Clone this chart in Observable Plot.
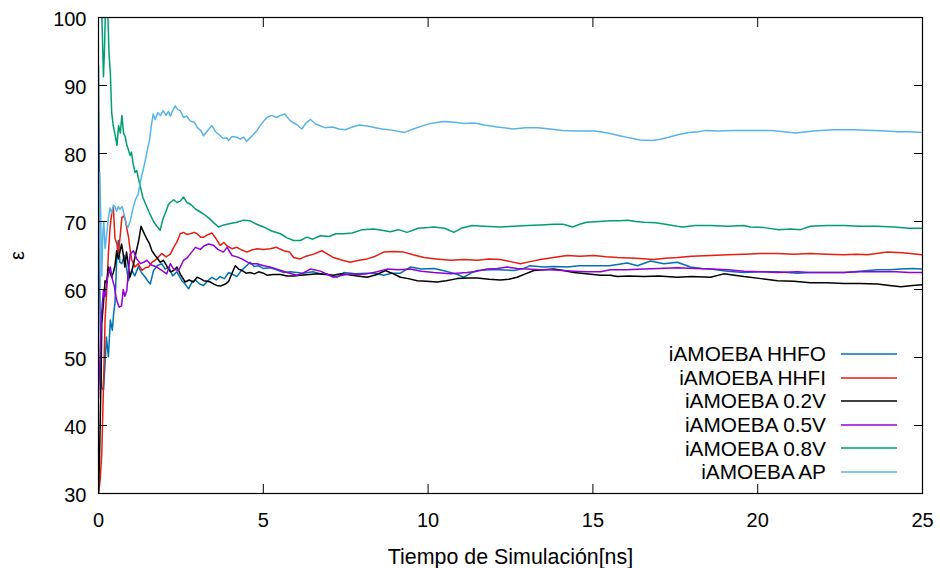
<!DOCTYPE html>
<html>
<head>
<meta charset="utf-8">
<script src="https://cdn.jsdelivr.net/npm/d3@7"></script>
<script src="https://cdn.jsdelivr.net/npm/@observablehq/plot@0.6"></script>
<style>
  html, body { margin: 0; padding: 0; background: #fff; }
  #chart { position: relative; width: 940px; height: 568px; font-family: "Liberation Sans", Arial, sans-serif; }
  #legend { position: absolute; right: 43px; top: 342.2px; }
  #legend .row { display: flex; align-items: center; justify-content: flex-end; height: 23.6px; font-size: 20.8px; line-height: 23.6px; color: #000; white-space: nowrap; }
  #legend svg { display: block; margin-left: 15px; }
</style>
</head>
<body>
<div id="chart"></div>
<script>
// Dielectric constant (ε) running estimate vs. simulation time for each water model
const serieNames = ["iAMOEBA HHFO", "iAMOEBA HHFI", "iAMOEBA 0.2V", "iAMOEBA 0.5V", "iAMOEBA 0.8V", "iAMOEBA AP"];
const serieColors = ["#0072b2", "#e51e10", "#000000", "#9400d3", "#009e73", "#56b4e9"];
const xTicks = [0, 5, 10, 15, 20, 25];
const yTicks = [30, 40, 50, 60, 70, 80, 90, 100];
const xTitle = "Tiempo de Simulación[ns]";
const yTitle = "ε";

// [time (ns), ε]
const hhfo = [[0,93],[0.02,78],[0.04,60],[0.07,48],[0.1,45.5],[0.15,45.2],[0.2,49],[0.24,53],[0.3,50.1],[0.36,55.5],[0.42,54],[0.46,56.5],[0.5,58],[0.56,65.2],[0.6,67.2],[0.65,64],[0.71,63.8],[0.78,65],[0.84,63.5],[0.91,61.3],[0.96,62.2],[1.01,62.8],[1.1,62],[1.21,63.4],[1.3,62.5],[1.42,61.8],[1.5,61.2],[1.57,60.8],[1.67,62.8],[1.78,63.5],[1.92,63.8],[2.02,63],[2.13,63.3],[2.25,62],[2.38,62.6],[2.53,61.3],[2.63,60.8],[2.73,60.1],[2.85,61.2],[2.94,61.4],[3.07,60.8],[3.19,60.6],[3.3,61.2],[3.44,61.8],[3.57,61.4],[3.69,61.9],[3.82,61.6],[3.95,62.5],[4.08,62.2],[4.2,61.9],[4.32,62.7],[4.45,63.3],[4.6,64],[4.72,63.4],[4.85,63.5],[5.0,63.1],[5.21,63.2],[5.4,62.9],[5.62,62.5],[5.82,62.6],[6.02,62.5],[6.2,62.4],[6.5,62.6],[6.75,62.3],[6.93,62.3],[7.1,62.0],[7.24,61.8],[7.44,62.5],[7.8,62.3],[8.15,62.4],[8.4,62.4],[8.65,62.1],[8.9,62.4],[9.16,62.4],[9.46,63.3],[9.8,63.0],[10.17,63.1],[10.45,62.8],[10.68,62.5],[10.9,62.2],[11.08,61.8],[11.3,62.4],[11.49,62.8],[11.85,62.9],[12.19,62.9],[12.6,62.8],[12.9,63.1],[13.1,63.5],[13.5,63.3],[13.81,63.4],[14.22,63.3],[14.6,63.5],[15.03,63.5],[15.5,63.5],[16.04,63.9],[16.35,63.5],[16.75,64.2],[17.15,63.8],[17.56,64.0],[17.96,63.3],[18.3,63.1],[18.57,63.0],[19.08,62.7],[19.58,62.5],[20.1,62.6],[20.6,62.6],[21.2,62.4],[21.6,62.5],[22.1,62.5],[22.62,62.5],[23.1,62.7],[23.63,62.9],[24.0,62.9],[24.34,63.0],[24.7,63.1],[25.0,63.0]];

const hhfi = [[0,30],[0.05,32],[0.1,35.9],[0.15,45.6],[0.2,55.5],[0.25,60],[0.3,65.3],[0.35,69],[0.4,71.2],[0.45,72.1],[0.5,67.5],[0.56,66.7],[0.6,65.3],[0.66,68],[0.71,70.6],[0.76,70.8],[0.81,70.4],[0.86,69],[0.91,67.7],[0.96,65.8],[1.01,64.3],[1.11,63.3],[1.2,63.8],[1.32,62.8],[1.42,63.2],[1.52,63.3],[1.62,64],[1.72,64.3],[1.82,64.8],[1.92,65.3],[2.05,64.8],[2.18,65.2],[2.28,66.2],[2.38,67],[2.48,68.2],[2.58,68.4],[2.68,68.1],[2.78,68.2],[2.9,68.4],[2.99,68.2],[3.1,67.7],[3.19,67.7],[3.29,68.0],[3.44,68.3],[3.55,67.6],[3.69,66.5],[3.8,66.9],[3.9,66.4],[4.05,66.0],[4.2,66.2],[4.35,65.8],[4.5,65.5],[4.65,65.8],[4.81,66.0],[5.0,65.9],[5.21,66.0],[5.4,66.2],[5.62,65.7],[5.8,65.5],[5.92,64.7],[6.12,64.5],[6.3,64.9],[6.53,65.2],[6.78,65.7],[6.95,65.2],[7.13,64.7],[7.4,64.3],[7.64,64.0],[7.9,64.3],[8.15,64.5],[8.4,64.9],[8.65,65.5],[8.95,65.6],[9.26,65.5],[9.55,65.1],[9.87,64.7],[10.25,64.5],[10.68,64.3],[11.1,64.4],[11.49,64.3],[11.85,64.5],[12.19,64.4],[12.5,64.1],[12.8,63.8],[13.1,64.1],[13.41,64.4],[13.8,64.7],[14.22,65.0],[14.6,64.9],[15.03,65.0],[15.4,64.8],[15.74,64.7],[16.3,64.6],[16.85,64.4],[17.2,64.6],[17.56,64.7],[18.0,64.9],[18.57,65.0],[19.1,65.1],[19.58,65.2],[20.1,65.3],[20.6,65.3],[21.1,65.2],[21.6,65.3],[22.1,65.2],[22.62,65.1],[23.0,65.2],[23.33,65.1],[23.6,65.3],[23.93,65.5],[24.4,65.4],[25,65.1]];

const v02 = [[0,30],[0.03,35],[0.05,40],[0.08,48],[0.1,55],[0.15,58],[0.2,61.3],[0.25,61],[0.3,63.3],[0.35,62.5],[0.4,61.8],[0.45,62.5],[0.5,63.5],[0.55,65.7],[0.6,64.5],[0.65,65.5],[0.7,66.7],[0.75,65.2],[0.8,63.3],[0.85,65.5],[0.9,63.8],[0.95,61.8],[1.0,62.5],[1.05,63.5],[1.15,65.7],[1.22,67.2],[1.29,69.3],[1.37,68.4],[1.45,67.6],[1.55,66.7],[1.62,65.7],[1.72,65.0],[1.77,64.7],[1.87,64.0],[1.97,64.3],[2.08,63.4],[2.18,62.6],[2.28,62.8],[2.38,63.3],[2.5,62.1],[2.63,61.1],[2.75,61.4],[2.88,61.1],[2.99,61.8],[3.09,61.6],[3.19,61.3],[3.3,61.2],[3.39,61.1],[3.5,60.8],[3.59,60.6],[3.7,60.5],[3.85,60.8],[3.95,61.2],[4.05,62.4],[4.15,63.5],[4.25,63.0],[4.35,62.8],[4.48,62.4],[4.6,62.5],[4.73,62.3],[4.86,62.6],[5.0,62.4],[5.11,62.1],[5.3,62.2],[5.52,62.2],[5.72,62.0],[5.92,62.0],[6.12,62.1],[6.4,62.2],[6.63,62.3],[6.9,62.2],[7.13,62.1],[7.35,62.3],[7.54,62.2],[7.85,62.0],[8.15,61.8],[8.45,62.2],[8.7,62.8],[8.95,62.3],[9.16,61.8],[9.4,61.6],[9.67,61.3],[9.95,61.2],[10.27,61.1],[10.55,61.3],[10.88,61.6],[11.2,61.7],[11.49,61.7],[11.85,61.5],[12.19,61.4],[12.45,61.5],[12.7,61.8],[12.95,62.3],[13.21,62.8],[13.5,62.9],[13.81,63.0],[14.1,62.8],[14.42,62.5],[14.8,62.3],[15.23,62.1],[15.53,62.1],[15.74,61.9],[16.1,62.0],[16.55,61.9],[17.0,62.0],[17.56,61.8],[18.0,61.9],[18.57,61.8],[18.97,62.3],[19.3,62.1],[19.58,61.9],[20.1,61.6],[20.6,61.3],[21.1,61.2],[21.6,61.0],[22.1,61.0],[22.62,60.9],[23.1,60.9],[23.63,60.8],[24.0,60.6],[24.34,60.4],[24.7,60.6],[25,60.7]];

const v05 = [[0,44],[0.03,48],[0.06,52],[0.1,56.9],[0.15,59.9],[0.2,59],[0.25,61],[0.3,62.3],[0.36,63.3],[0.42,61.5],[0.48,60.5],[0.53,58.9],[0.58,58],[0.63,57.4],[0.7,57.6],[0.75,60],[0.8,59],[0.86,59.9],[0.91,62.8],[0.96,65.2],[1.06,65.7],[1.16,64.5],[1.27,63.8],[1.37,64.0],[1.47,64.3],[1.6,63.6],[1.77,63.3],[1.92,62.8],[2.07,62.3],[2.18,63.8],[2.28,63.0],[2.43,62.8],[2.58,64.3],[2.68,64.6],[2.78,65.2],[2.94,66.2],[3.09,65.9],[3.2,66.4],[3.34,66.7],[3.49,66.5],[3.62,65.9],[3.79,65.5],[3.9,66.2],[4.05,65.0],[4.2,64.8],[4.35,64.5],[4.6,63.8],[4.81,63.8],[5.01,63.5],[5.2,63.3],[5.42,63.0],[5.72,62.5],[6.02,62.1],[6.2,62.4],[6.43,63.0],[6.73,62.7],[6.95,62.2],[7.13,61.8],[7.4,62.1],[7.64,62.3],[7.9,62.2],[8.15,62.3],[8.45,62.6],[8.76,63.0],[9.1,62.9],[9.46,63.0],[9.8,62.7],[10.17,62.5],[10.68,62.3],[11.18,62.5],[11.5,62.7],[11.79,63.0],[12.1,63.1],[12.4,63.3],[12.7,63.1],[13.0,63.0],[13.4,62.9],[13.71,62.9],[14.1,62.8],[14.42,62.7],[14.8,62.6],[15.23,62.6],[15.53,62.9],[16.0,62.9],[16.55,63.0],[17.0,63.1],[17.56,63.2],[18.1,63.1],[18.57,63.0],[19.1,62.9],[19.58,62.7],[20.1,62.6],[20.6,62.5],[21.2,62.6],[21.6,62.5],[22.1,62.5],[22.62,62.5],[23.1,62.6],[23.63,62.6],[24.2,62.6],[24.6,62.5],[25,62.5]];

const v08 = [[0.08,104],[0.12,97],[0.15,91.3],[0.18,95],[0.22,103],[0.28,101],[0.32,94.6],[0.36,91.9],[0.4,86],[0.45,84],[0.51,82.6],[0.56,81.2],[0.61,84.1],[0.66,83],[0.71,85.6],[0.76,83],[0.81,82.5],[0.86,81.2],[0.91,80.5],[0.96,79.7],[1.0,80.2],[1.05,78.5],[1.11,77.2],[1.16,77.5],[1.25,75.5],[1.35,73.5],[1.47,72.1],[1.57,71],[1.67,70],[1.77,69.3],[1.87,68.7],[1.95,70.3],[2.05,71.5],[2.12,72.5],[2.18,72.8],[2.28,73.2],[2.38,72.8],[2.48,73.0],[2.58,73.6],[2.68,72.8],[2.8,72.5],[2.95,71.8],[3.09,71.4],[3.19,71.1],[3.35,70.5],[3.5,69.8],[3.64,69.2],[3.8,69.5],[4.0,69.7],[4.2,69.9],[4.4,70.2],[4.6,70.1],[4.8,69.6],[5.01,69.2],[5.25,68.6],[5.52,68.2],[5.72,67.6],[5.92,67.2],[6.12,67.2],[6.33,67.7],[6.5,67.4],[6.73,67.9],[7.0,67.8],[7.2,68.2],[7.44,68.2],[7.7,68.3],[8.0,68.8],[8.35,68.9],[8.6,68.7],[8.85,68.5],[9.1,68.8],[9.36,68.4],[9.7,69.0],[10.0,69.1],[10.17,69.2],[10.5,69.0],[10.78,68.4],[11.0,69.0],[11.33,69.4],[11.7,69.3],[12.19,69.2],[12.6,69.3],[13.0,69.4],[13.4,69.5],[13.82,69.6],[14.1,69.6],[14.38,69.2],[14.6,69.6],[14.81,69.9],[15.2,70.0],[15.53,70.1],[15.8,70.1],[16.05,70.2],[16.3,70.0],[16.55,69.9],[16.9,69.8],[17.2,69.6],[17.56,69.3],[17.73,69.2],[18.1,69.4],[18.57,69.4],[19.1,69.3],[19.58,69.4],[19.78,69.2],[20.2,69.1],[20.64,68.8],[21.0,68.9],[21.3,68.8],[21.6,69.3],[22.1,69.4],[22.62,69.4],[23.1,69.3],[23.63,69.3],[24.13,69.2],[24.6,69.0],[25,69.0]];

const ap = [[0,60],[0.02,66],[0.04,77.2],[0.07,70],[0.1,62],[0.13,68],[0.16,70],[0.2,66],[0.25,68.2],[0.3,70.5],[0.35,72],[0.4,71.2],[0.45,72.4],[0.5,72.2],[0.55,71.5],[0.6,72.2],[0.65,71.8],[0.72,72.2],[0.78,71],[0.84,69.5],[0.9,69.2],[0.96,70],[1.05,72],[1.12,73.2],[1.2,74],[1.28,76],[1.35,77.5],[1.42,79],[1.48,80.5],[1.55,82],[1.6,84],[1.66,85.8],[1.72,85],[1.8,86],[1.88,85.6],[1.96,86.3],[2.05,85.6],[2.12,86.2],[2.18,85.5],[2.25,86.3],[2.33,87.0],[2.4,86.5],[2.48,86.3],[2.58,85.3],[2.68,85.5],[2.78,84.8],[2.9,84.6],[3.0,83.8],[3.1,83.4],[3.19,82.6],[3.3,83.3],[3.44,84.1],[3.55,83.2],[3.65,82.8],[3.78,82.2],[3.88,82.3],[3.95,81.9],[4.05,82.5],[4.2,82.4],[4.3,82.1],[4.4,82.4],[4.5,81.8],[4.6,82.3],[4.7,82.8],[4.81,83.4],[4.92,84.2],[5.02,84.8],[5.11,85.3],[5.25,85.6],[5.4,85.3],[5.52,85.6],[5.65,85.8],[5.82,84.8],[6.0,84.3],[6.17,83.6],[6.3,84.5],[6.43,85.0],[6.6,84.3],[6.87,83.8],[7.1,83.9],[7.3,83.6],[7.49,83.5],[7.7,83.9],[7.92,84.2],[8.2,84.0],[8.4,83.8],[8.61,83.6],[8.95,83.4],[9.29,83.1],[9.55,83.6],[9.85,84.1],[10.15,84.5],[10.47,84.7],[10.8,84.6],[11.09,84.4],[11.4,84.5],[11.71,84.2],[12.1,83.9],[12.58,83.6],[12.95,83.8],[13.33,83.8],[13.7,83.6],[14.07,83.4],[14.55,83.3],[15.06,83.3],[15.45,83.0],[15.81,82.6],[16.1,82.3],[16.43,82.0],[16.8,81.9],[17.05,82.1],[17.3,82.4],[17.6,82.8],[17.92,83.1],[18.2,83.2],[18.42,83.4],[18.8,83.3],[19.28,83.4],[19.8,83.4],[20.4,83.4],[20.8,83.2],[21.15,83.0],[21.7,83.3],[22.27,83.5],[22.9,83.5],[23.5,83.4],[23.9,83.3],[24.25,83.2],[24.6,83.2],[25.0,83.1]];

const serieData = [hhfo, hhfi, v02, v05, v08, ap];

const rows = serieData.flatMap((pts, i) =>
  pts.map(([t, eps]) => ({t, eps, serie: serieNames[i]}))
);

const blank = () => "";

const chart = Plot.plot({
  width: 940,
  height: 568,
  marginLeft: 98,
  marginRight: 18,
  marginTop: 17,
  marginBottom: 75,
  style: {fontFamily: "'Liberation Sans', Arial, sans-serif", fontSize: "20px", color: "#000", background: "#fff"},
  x: {domain: [0, 25]},
  y: {domain: [30, 100]},
  color: {domain: serieNames, range: serieColors},
  marks: [
    Plot.line(rows, {x: "t", y: "eps", z: "serie", stroke: "serie", strokeWidth: 1.5, clip: true}),
    Plot.frame({stroke: "#000", strokeWidth: 1.2}),
    // tick labels
    Plot.axisX(xTicks, {anchor: "bottom", tickSize: 0, tickPadding: 19, label: null}),
    Plot.axisY(yTicks, {anchor: "left", tickSize: 0, tickPadding: 12, dy: 2.5, label: yTitle, labelAnchor: "center", labelOffset: 89, labelArrow: "none"}),
    // x-axis title below the tick labels
    Plot.text([xTitle], {frameAnchor: "bottom", dy: 70, lineAnchor: "bottom", fontSize: 21.4}),
    // inward ticks mirrored on all four sides
    Plot.axisX(xTicks, {anchor: "bottom", tickSize: -9, tickFormat: blank, label: null}),
    Plot.axisX(xTicks, {anchor: "top", tickSize: -9, tickFormat: blank, label: null}),
    Plot.axisY(yTicks, {anchor: "left", tickSize: -9, tickFormat: blank, label: null}),
    Plot.axisY(yTicks, {anchor: "right", tickSize: -9, tickFormat: blank, label: null})
  ]
});

const container = document.getElementById("chart");
container.appendChild(chart);

// key, drawn over the lower-right corner of the frame
const svgNS = "http://www.w3.org/2000/svg";
const legend = document.createElement("div");
legend.id = "legend";
serieNames.forEach((name, i) => {
  const row = document.createElement("div");
  row.className = "row";
  const label = document.createElement("span");
  label.textContent = name;
  const swatch = document.createElementNS(svgNS, "svg");
  swatch.setAttribute("width", "56");
  swatch.setAttribute("height", "6");
  const ln = document.createElementNS(svgNS, "line");
  ln.setAttribute("x1", "0");
  ln.setAttribute("x2", "56");
  ln.setAttribute("y1", "3");
  ln.setAttribute("y2", "3");
  ln.setAttribute("stroke", serieColors[i]);
  ln.setAttribute("stroke-width", "1.5");
  swatch.appendChild(ln);
  row.appendChild(label);
  row.appendChild(swatch);
  legend.appendChild(row);
});
container.appendChild(legend);
</script>
</body>
</html>
